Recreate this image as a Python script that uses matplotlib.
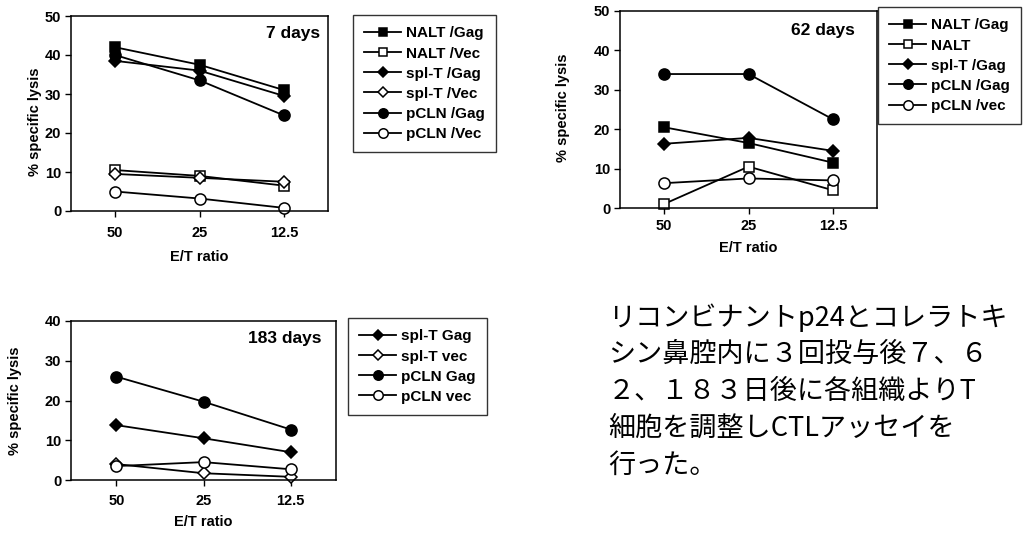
import matplotlib
matplotlib.use("Agg")
import matplotlib.pyplot as plt

plt.rcParams['font.family'] = ['Liberation Sans', 'DejaVu Sans']
plt.rcParams['font.weight'] = 'bold'

ratios = ["50", "25", "12.5"]

# 7 days
d7_labels = ["NALT /Gag", "NALT /Vec", "spl-T /Gag", "spl-T /Vec", "pCLN /Gag", "pCLN /Vec"]
d7_nalt_gag = [42, 37.5, 31]
d7_nalt_vec = [10.5, 9, 6.5]
d7_splt_gag = [38.5, 36, 29.5]
d7_splt_vec = [9.5, 8.5, 7.5]
d7_pcln_gag = [40, 33.5, 24.5]
d7_pcln_vec = [5, 3.2, 0.8]

# 62 days
d62_labels = ["NALT /Gag", "NALT", "spl-T /Gag", "pCLN /Gag", "pCLN /vec"]
d62_nalt_gag = [20.5, 16.5, 11.5]
d62_nalt_vec = [1, 10.5, 4.5]
d62_splt_gag = [16.3, 17.8, 14.5]
d62_pcln_gag = [34, 34, 22.5]
d62_pcln_vec = [6.3, 7.5, 7]

# 183 days
d183_labels = ["spl-T Gag", "spl-T vec", "pCLN Gag", "pCLN vec"]
d183_splt_gag = [13.8, 10.5, 7]
d183_splt_vec = [4, 1.7, 0.8]
d183_pcln_gag = [26, 19.7, 12.7]
d183_pcln_vec = [3.5, 4.5, 2.7]

note_lines = ["リコンビナントp24とコレラトキ",
              "シン鼻腔内に３回投与後７、６",
              "２、１８３日後に各組織よりT",
              "細胞を調整しCTLアッセイを",
              "行った。"]

styles = {
    "sq_f": dict(marker='s', mfc='black', ms=7.5),
    "sq_o": dict(marker='s', mfc='white', ms=7.5),
    "di_f": dict(marker='D', mfc='black', ms=6.5),
    "di_o": dict(marker='D', mfc='white', ms=6.5),
    "ci_f": dict(marker='o', mfc='black', ms=8),
    "ci_o": dict(marker='o', mfc='white', ms=8),
}

fig = plt.figure(figsize=(10.26, 5.33), dpi=100)


def setup(ax, ymax, title, tx, ty, pad, ylab_x, ylab_y, xlab_y):
    x = list(range(len(ratios)))
    ax.set_xlim(-0.52, 2.52)
    ax.set_ylim(0, ymax)
    ax.set_xticks(x)
    ax.set_xticklabels(ratios)
    ax.set_yticks(range(0, ymax + 1, 10))
    ax.tick_params(axis='x', direction='out', length=4, width=1, pad=pad, labelsize=10.5)
    ax.tick_params(axis='y', direction='out', length=4, width=1, pad=3, labelsize=10.5)
    for lab in ax.get_xticklabels() + ax.get_yticklabels():
        lab.set_fontweight('bold')
    for s in ax.spines.values():
        s.set_linewidth(1.1)
    ax.set_ylabel("% specific lysis", fontsize=10.5, fontweight='bold')
    ax.yaxis.set_label_coords(ylab_x, ylab_y)
    ax.set_xlabel("E/T ratio", fontsize=10.5, fontweight='bold')
    ax.xaxis.set_label_coords(0.5, xlab_y)
    ax.text(tx, ty, title, transform=ax.transAxes, ha='right', va='center',
            fontsize=12.5, fontweight='bold')


def draw(ax, series, labels, keys):
    x = list(range(len(ratios)))
    handles = []
    for vals, lab, k in zip(series, labels, keys):
        h, = ax.plot(x, vals, color='black', lw=1.3, mec='black', mew=1.1,
                     label=lab, clip_on=False, **styles[k])
        handles.append(h)
    return handles


def add_legend(handles, labels, left, top):
    leg = fig.legend(handles, labels, loc='upper left', bbox_to_anchor=(left, top),
                     bbox_transform=fig.transFigure, frameon=True, fancybox=False,
                     handlelength=2.4, handletextpad=0.3, borderaxespad=0,
                     labelspacing=0.4, borderpad=0.75, markerscale=0.85,
                     prop={'weight': 'bold', 'size': 11})
    leg.get_frame().set_edgecolor('black')
    leg.get_frame().set_linewidth(1.0)
    return leg


# panel 7 days
ax1 = fig.add_axes([71 / 1026, (533 - 211) / 533, 257 / 1026, 195 / 533])
setup(ax1, 50, "7 days", 0.97, 0.91, 7, -0.113, 0.46, -0.2)
h1 = draw(ax1, [d7_nalt_gag, d7_nalt_vec, d7_splt_gag, d7_splt_vec, d7_pcln_gag, d7_pcln_vec],
          d7_labels, ["sq_f", "sq_o", "di_f", "di_o", "ci_f", "ci_o"])
add_legend(h1, d7_labels, 353 / 1026, (533 - 15) / 533)

# panel 62 days
ax2 = fig.add_axes([620 / 1026, (533 - 208) / 533, 257 / 1026, 197 / 533])
setup(ax2, 50, "62 days", 0.915, 0.90, 4, -0.195, 0.51, -0.168)
h2 = draw(ax2, [d62_nalt_gag, d62_nalt_vec, d62_splt_gag, d62_pcln_gag, d62_pcln_vec],
          d62_labels, ["sq_f", "sq_o", "di_f", "ci_f", "ci_o"])
add_legend(h2, d62_labels, 878 / 1026, (533 - 7) / 533)

# panel 183 days
ax3 = fig.add_axes([71 / 1026, (533 - 480) / 533, 265 / 1026, 159 / 533])
setup(ax3, 40, "183 days", 0.947, 0.893, 6.3, -0.185, 0.5, -0.22)
h3 = draw(ax3, [d183_splt_gag, d183_splt_vec, d183_pcln_gag, d183_pcln_vec],
          d183_labels, ["di_f", "di_o", "ci_f", "ci_o"])
add_legend(h3, d183_labels, 348 / 1026, (533 - 318) / 533)

# japanese note
for i, line in enumerate(note_lines):
    fig.text(608 / 1026, (533 - (318 + i * 36.8)) / 533, line,
             ha='left', va='center', fontsize=19.5, fontweight='normal',
             family=['Noto Sans CJK JP', 'DejaVu Sans'])

fig.savefig("out.png", dpi=100)
